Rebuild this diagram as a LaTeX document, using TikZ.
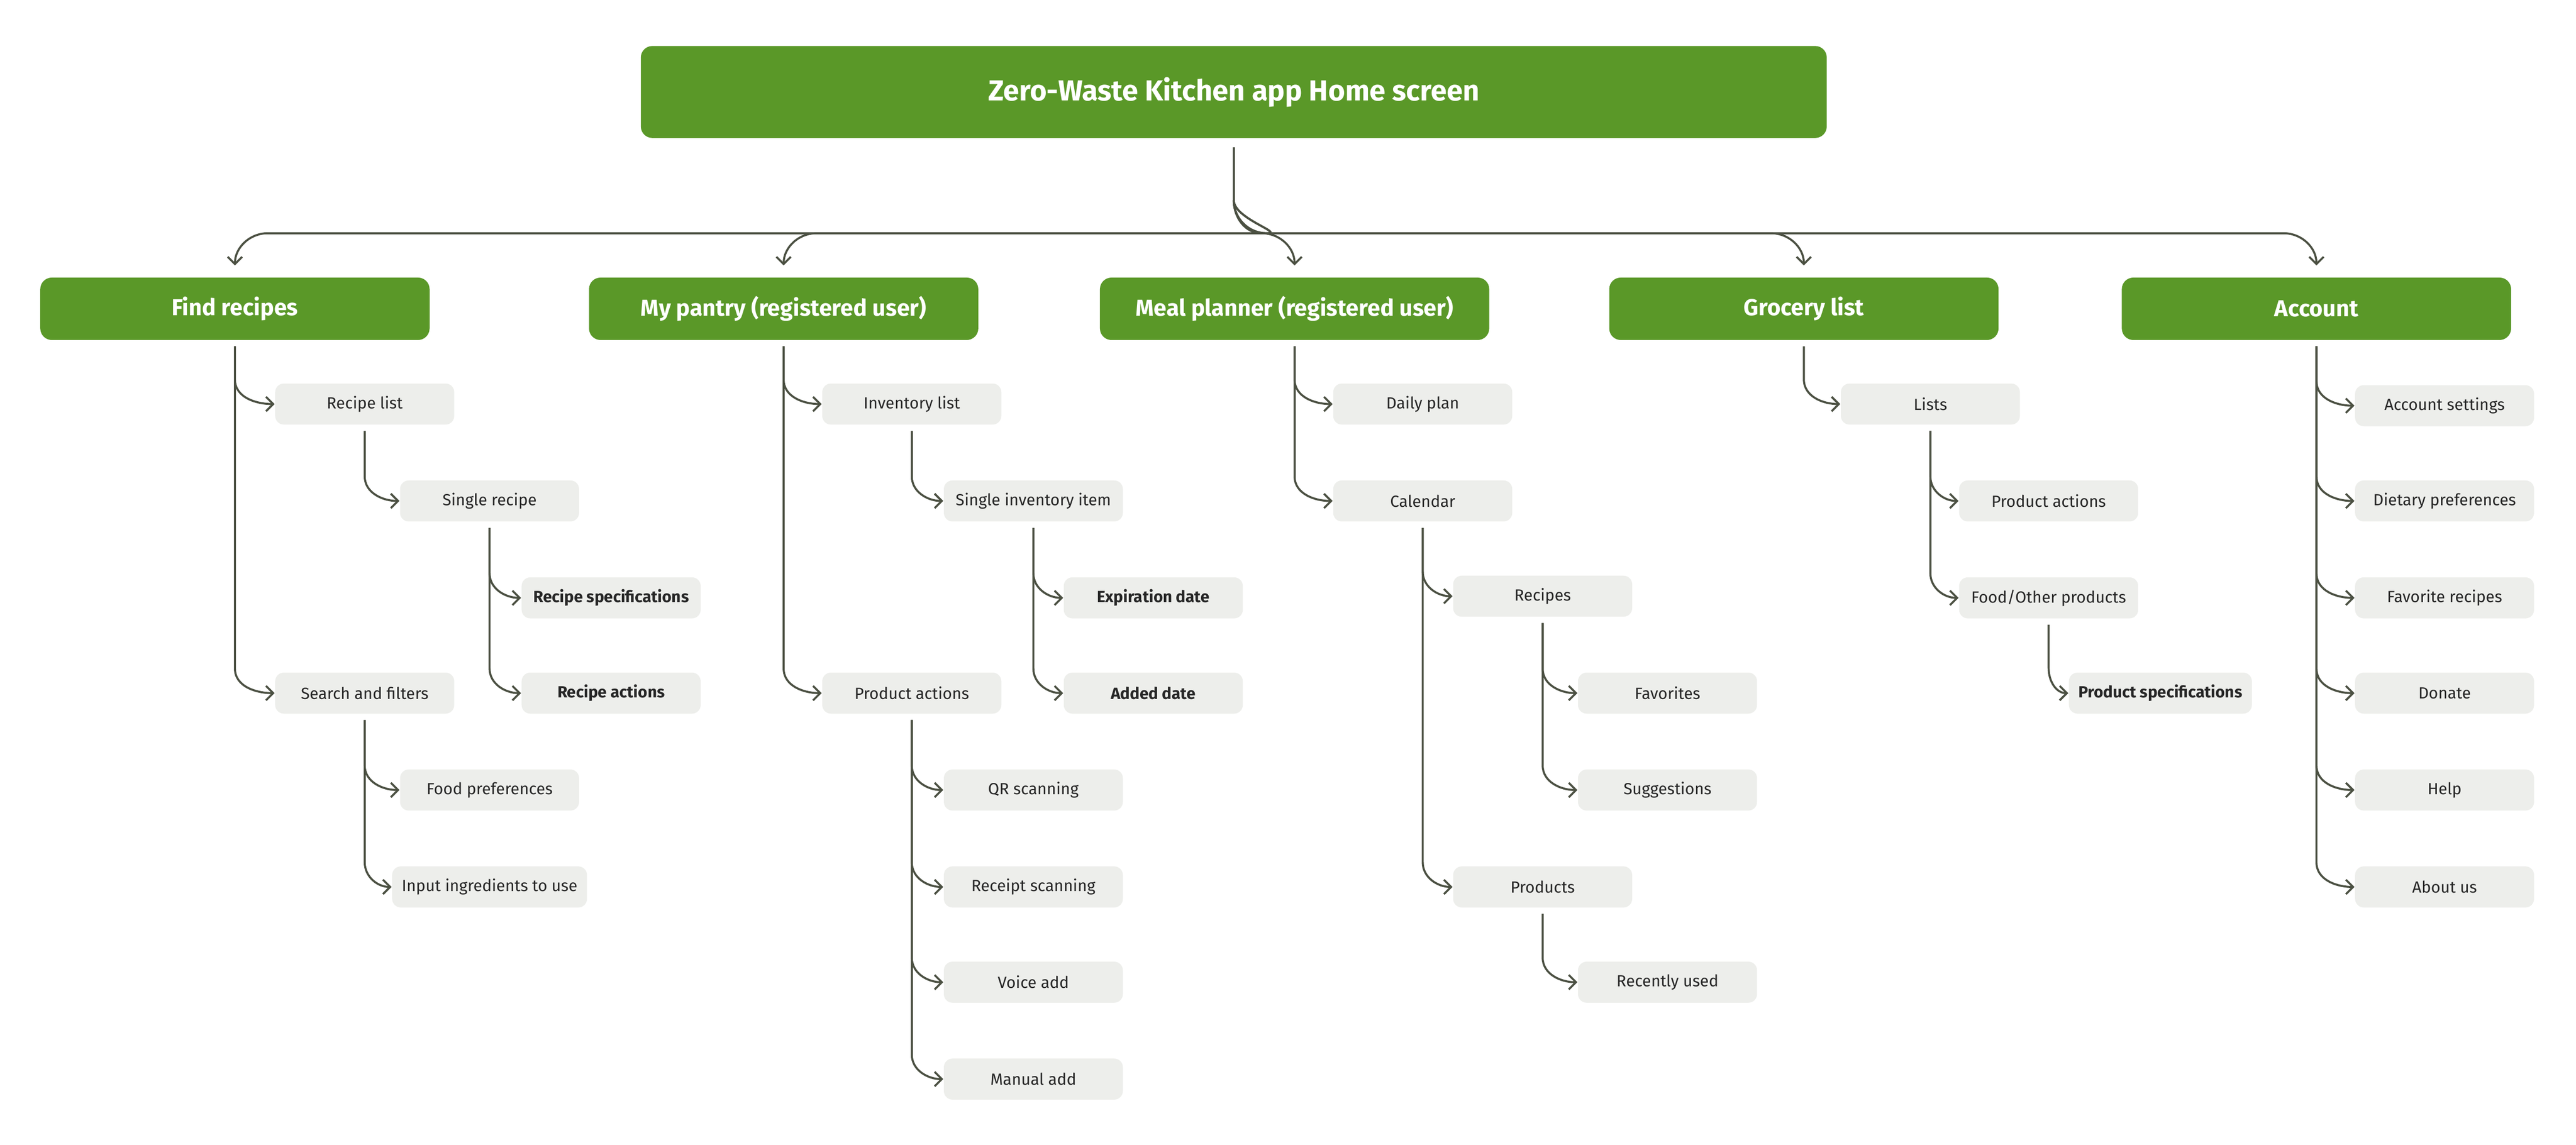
\documentclass[tikz,border=0pt]{standalone}
\usepackage{fontspec}
\setmainfont{Fira Sans}
\usetikzlibrary{arrows.meta, positioning}

\definecolor{leafgreen}{HTML}{5A9828}
\definecolor{softgray}{HTML}{EDEEEB}
\definecolor{linegray}{HTML}{4B5042}

\tikzset{
  rootbox/.style={rectangle, rounded corners=4pt, fill=leafgreen, text=white, minimum width=14.44cm, minimum height=1.12cm, font=\fontsize{10}{12}\selectfont\bfseries},
  catbox/.style={rectangle, rounded corners=4pt, fill=leafgreen, text=white, minimum width=4.74cm, minimum height=0.76cm, font=\fontsize{8}{10}\selectfont\bfseries},
  itembox/.style={rectangle, rounded corners=3pt, fill=softgray, text=black!85, minimum width=2.18cm, minimum height=0.5cm, font=\fontsize{5.6}{7}\selectfont},
  keybox/.style={itembox, font=\fontsize{5.6}{7}\selectfont\bfseries},
  link/.style={draw=linegray, line width=0.7pt, -{Straight Barb[length=2.5pt,width=5pt]}}
}
% vertical drop from parent, then a bend into the child's left side
\newcommand{\linkto}[2]{\draw[link] ([yshift=-2pt]#1.south) -- ([yshift=0.3cm]#1.south |- #2.west) to[out=-90,in=180] (#2.west);}

\begin{document}
\begin{tikzpicture}[x=0.02cm, y=-0.02cm]
\useasboundingbox (0,0) rectangle (1568,697);

\node (root) [rootbox] at (751,56) {Zero-Waste Kitchen app Home screen};

\node (find) [catbox] at (143,188) {Find recipes};
\node (pantry) [catbox] at (477,188) {My pantry (registered user)};
\node (planner) [catbox] at (788,188) {Meal planner (registered user)};
\node (grocery) [catbox] at (1098,188) {Grocery list};
\node (account) [catbox] at (1410,188) {Account};

% Find recipes
\node (recipelist) [itembox] at (222,246) {Recipe list};
\node (singlerecipe) [itembox] at (298,305) {Single recipe};
\node (recipespecs) [keybox] at (372,364) {Recipe specifications};
\node (recipeactions) [keybox] at (372,422) {Recipe actions};
\node (search) [itembox] at (222,422) {Search and filters};
\node (foodprefs) [itembox] at (298,481) {Food preferences};
\node (ingredients) [itembox] at (298,540) {Input ingredients to use};

% My pantry
\node (inventory) [itembox] at (555,246) {Inventory list};
\node (singleitem) [itembox] at (629,305) {Single inventory item};
\node (expiration) [keybox] at (702,364) {Expiration date};
\node (added) [keybox] at (702,422) {Added date};
\node (pactions) [itembox] at (555,422) {Product actions};
\node (qr) [itembox] at (629,481) {QR scanning};
\node (receipt) [itembox] at (629,540) {Receipt scanning};
\node (voice) [itembox] at (629,598) {Voice add};
\node (manual) [itembox] at (629,657) {Manual add};

% Meal planner
\node (daily) [itembox] at (866,246) {Daily plan};
\node (calendar) [itembox] at (866,305) {Calendar};
\node (mrecipes) [itembox] at (939,363) {Recipes};
\node (favorites) [itembox] at (1015,422) {Favorites};
\node (suggestions) [itembox] at (1015,481) {Suggestions};
\node (mproducts) [itembox] at (939,540) {Products};
\node (recent) [itembox] at (1015,598) {Recently used};

% Grocery list
\node (lists) [itembox] at (1175,246) {Lists};
\node (gactions) [itembox] at (1247,305) {Product actions};
\node (foodother) [itembox] at (1247,364) {Food/Other products};
\node (gspecs) [keybox] at (1315,422) {Product specifications};

% Account
\node (settings) [itembox] at (1488,247) {Account settings};
\node (dietary) [itembox] at (1488,305) {Dietary preferences};
\node (favrecipes) [itembox] at (1488,364) {Favorite recipes};
\node (donate) [itembox] at (1488,422) {Donate};
\node (help) [itembox] at (1488,481) {Help};
\node (about) [itembox] at (1488,540) {About us};

% Home screen branches
\draw[link] ([yshift=-3pt]root.south) -- (751,122) to[out=-90,in=0] (771,142) -- (163,142) to[out=180,in=90] ([yshift=4pt]find.north);
\draw[link] (751,122) to[out=-90,in=0] (771,142) -- (497,142) to[out=180,in=90] ([yshift=4pt]pantry.north);
\draw[link] (751,122) to[out=-90,in=180] (768,142) to[out=0,in=90] ([yshift=4pt]planner.north);
\draw[link] (751,122) to[out=-90,in=180] (771,142) -- (1078,142) to[out=0,in=90] ([yshift=4pt]grocery.north);
\draw[link] (751,122) to[out=-90,in=180] (771,142) -- (1390,142) to[out=0,in=90] ([yshift=4pt]account.north);

% Sub-branches
\foreach \p/\c in {find/recipelist, find/search, recipelist/singlerecipe, singlerecipe/recipespecs, singlerecipe/recipeactions,
  search/foodprefs, search/ingredients,
  pantry/inventory, pantry/pactions, inventory/singleitem, singleitem/expiration, singleitem/added,
  pactions/qr, pactions/receipt, pactions/voice, pactions/manual,
  planner/daily, planner/calendar, calendar/mrecipes, calendar/mproducts, mrecipes/favorites, mrecipes/suggestions, mproducts/recent,
  grocery/lists, lists/gactions, lists/foodother, foodother/gspecs,
  account/settings, account/dietary, account/favrecipes, account/donate, account/help, account/about}
  {\linkto{\p}{\c}}
\end{tikzpicture}
\end{document}
